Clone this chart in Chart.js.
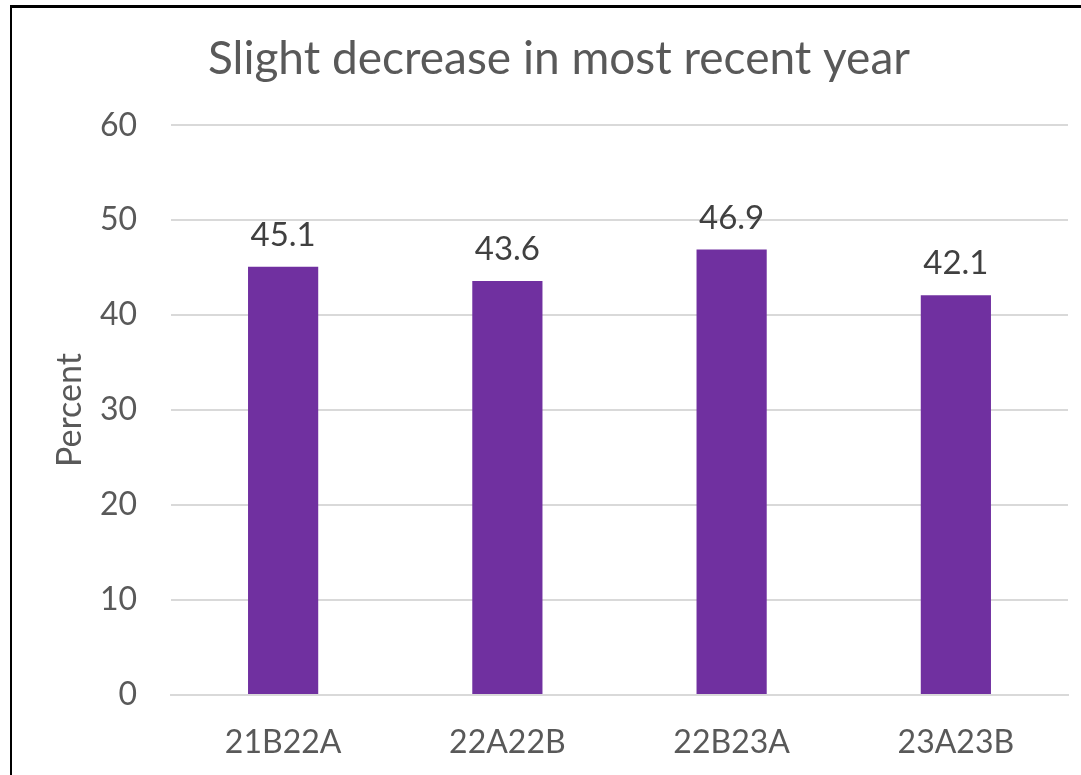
<!DOCTYPE html>
<html>
<head>
<meta charset="utf-8">
<script src="https://cdn.jsdelivr.net/npm/chart.js@4"></script>
<style>
  html, body { margin: 0; padding: 0; background: #fff; overflow: hidden; }
  #frame {
    position: absolute; left: 10px; top: 5px;
    width: 1090px; height: 775px;
    border-left: 2px solid #000; border-top: 3px solid #000;
  }
  #wrap { position: absolute; left: 0; top: 0; width: 1088px; height: 767px; }
</style>
</head>
<body>
<div id="frame"><div id="wrap"><canvas id="chart"></canvas></div></div>
<script>
// values
const periods = ['21B22A', '22A22B', '22B23A', '23A23B'];
const percents = [45.1, 43.6, 46.9, 42.1];
const yTicks = [0, 10, 20, 30, 40, 50, 60];

const grey = '#595959';
const font = 'Lato, "Open Sans", sans-serif';

// draws the value above each bar
const barLabels = {
  id: 'barLabels',
  afterDatasetsDraw(chart) {
    const ctx = chart.ctx;
    const meta = chart.getDatasetMeta(0);
    ctx.save();
    ctx.font = '33px ' + font;
    ctx.fillStyle = '#404040';
    ctx.textAlign = 'center';
    ctx.textBaseline = 'bottom';
    meta.data.forEach((bar, i) => {
      ctx.fillText(percents[i].toFixed(1), bar.x, bar.y - 15);
    });
    ctx.restore();
  }
};

new Chart(document.getElementById('chart'), {
  type: 'bar',
  data: {
    labels: periods,
    datasets: [{
      data: percents,
      backgroundColor: '#7030A0',
      categoryPercentage: 1,
      barPercentage: 0.313
    }]
  },
  options: {
    responsive: true,
    maintainAspectRatio: false,
    animation: false,
    layout: { padding: { left: 38, right: 32, top: 0, bottom: 0 } },
    plugins: {
      legend: { display: false },
      tooltip: { enabled: false },
      title: {
        display: true,
        text: 'Slight decrease in most recent year',
        color: grey,
        font: { family: font, size: 46, weight: 'normal' },
        padding: { top: 24, bottom: 38 }
      }
    },
    scales: {
      x: {
        grid: { display: false, drawTicks: false },
        border: { color: '#d9d9d9', width: 2 },
        ticks: { color: grey, font: { family: font, size: 32 }, padding: 28 },
        afterFit(scale) { scale.height = 80; }
      },
      y: {
        min: 0,
        max: 60,
        afterBuildTicks(scale) { scale.ticks = yTicks.map(v => ({ value: v })); },
        grid: { color: '#d9d9d9', lineWidth: 2, drawTicks: false },
        border: { display: false },
        ticks: { color: grey, font: { family: font, size: 32 }, padding: 34 },
        title: {
          display: true,
          text: 'Percent',
          color: grey,
          font: { family: font, size: 34, weight: 'normal' },
          padding: { top: 0, bottom: 10 }
        },
        afterFit(scale) { scale.width = 121; }
      }
    }
  },
  plugins: [barLabels]
});
</script>
</body>
</html>
